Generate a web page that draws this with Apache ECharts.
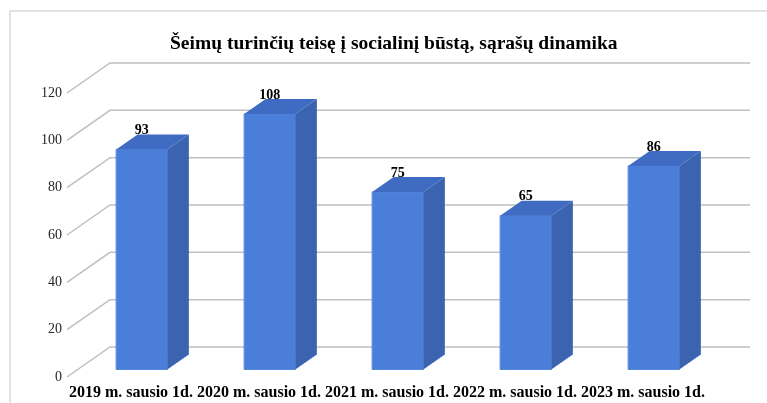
<!DOCTYPE html>
<html>
<head>
<meta charset="utf-8">
<title>Šeimų sąrašų dinamika</title>
<script src="https://cdn.jsdelivr.net/npm/echarts@6/dist/echarts.min.js"></script>
<style>
  html, body { margin: 0; padding: 0; background: #fff; }
  #main { width: 767px; height: 403px; }
</style>
</head>
<body>
<div id="main"></div>
<script>
// duomenys
var categories = ['2019 m. sausio 1d.', '2020 m. sausio 1d.', '2021 m. sausio 1d.', '2022 m. sausio 1d.', '2023 m. sausio 1d.'];
var values = [93, 108, 75, 65, 86];
var yTicks = [0, 20, 40, 60, 80, 100, 120];

// perspektyvos gylis (px)
var DX = 43, DY = -30;
var serif = '"Liberation Serif", "Times New Roman", serif';

var myChart = echarts.init(document.getElementById('main'));

function renderGrid(params, api) {
  var cs = params.coordSys;
  var p = api.coord([0, api.value(1)]);
  var y = p[1];
  return {
    type: 'polyline',
    shape: { points: [[cs.x, y], [cs.x + DX, y + DY], [cs.x + cs.width + DX, y + DY]] },
    style: { stroke: '#bfbfbf', lineWidth: 1.5, fill: null }
  };
}

function renderBar(params, api) {
  var idx = api.value(0);
  var top = api.coord([idx, api.value(1)]);
  var base = api.coord([idx, 0]);
  var band = api.size([1, 0])[0];
  var w = band * 0.4;
  var fx = DX * 0.25, fy = DY * 0.25;
  var bx = DX * 0.5, by = DY * 0.5;
  var x1 = top[0] - w / 2 + fx, x2 = top[0] + w / 2 + fx;
  var yt = top[1] + fy, yb = base[1] + fy;
  return {
    type: 'group',
    children: [
      {
        type: 'rect',
        shape: { x: x1, y: yt, width: w, height: yb - yt },
        style: { fill: '#4a7ed8', stroke: '#5587de', lineWidth: 1 }
      },
      {
        type: 'polygon',
        shape: { points: [[x2, yt], [x2 + bx, yt + by], [x2 + bx, yb + by], [x2, yb]] },
        style: { fill: '#3b64b0' }
      },
      {
        type: 'polygon',
        shape: { points: [[x1, yt], [x2, yt], [x2 + bx, yt + by], [x1 + bx, yt + by]] },
        style: { fill: '#3f6cc2' }
      },
      {
        type: 'text',
        style: {
          x: top[0] + fx, y: yt - 19,
          text: String(api.value(1)),
          align: 'center', verticalAlign: 'middle',
          fontFamily: serif, fontSize: 14, fontWeight: 'bold', fill: '#000'
        }
      }
    ]
  };
}

var option = {
  backgroundColor: '#fff',
  animation: false,
  title: {
    text: 'Šeimų turinčių teisę į socialinį būstą, sąrašų dinamika',
    left: 165, top: 29,
    textStyle: { fontFamily: serif, fontSize: 19.5, fontWeight: 'bold', color: '#000' }
  },
  graphic: [{
    type: 'rect',
    shape: { x: 10, y: 11, width: 800, height: 420 },
    style: { fill: null, stroke: '#d9d9d9', lineWidth: 1.5 },
    silent: true
  }],
  grid: { left: 67, right: 60, top: 93, bottom: 26 },
  xAxis: {
    type: 'category',
    data: categories,
    axisLine: { show: false },
    axisTick: { show: false },
    axisLabel: {
      interval: 0, margin: 8,
      fontFamily: serif, fontSize: 16, fontWeight: 'bold', color: '#000'
    }
  },
  yAxis: {
    type: 'value',
    min: 0, max: 120, interval: 20,
    axisLine: { show: false },
    axisTick: { show: false },
    splitLine: { show: false },
    axisLabel: { margin: 5, fontFamily: serif, fontSize: 14, color: '#262626' }
  },
  series: [
    {
      type: 'custom',
      z: 1,
      silent: true,
      renderItem: renderGrid,
      encode: { x: 0, y: 1 },
      data: yTicks.map(function (v) { return [0, v]; })
    },
    {
      type: 'custom',
      z: 2,
      renderItem: renderBar,
      encode: { x: 0, y: 1 },
      data: values.map(function (v, i) { return [i, v]; })
    }
  ]
};

myChart.setOption(option);
</script>
</body>
</html>
